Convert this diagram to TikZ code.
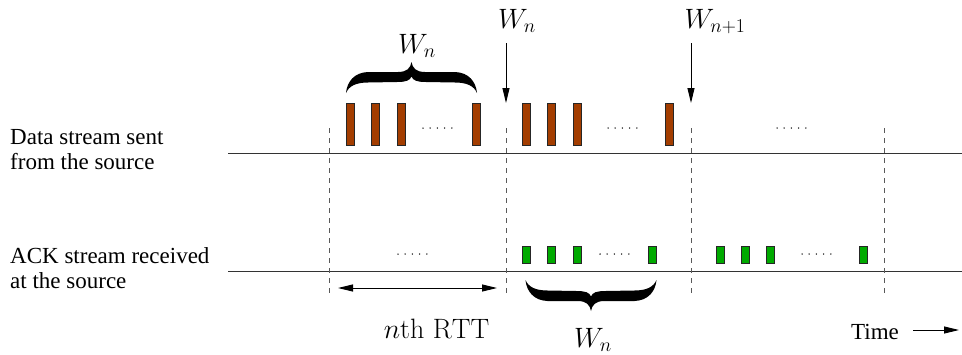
\RequirePackage{fix-cm}
\documentclass[tikz,border=0pt]{standalone}
\usepackage{fontspec}
\newfontfamily\tms{Liberation Serif}
\usetikzlibrary{arrows.meta}
\definecolor{brownc}{RGB}{163,61,0}
\definecolor{greenc}{RGB}{0,170,0}
\begin{document}
\begin{tikzpicture}[x=1pt,y=-1pt,
  axis/.style={line width=1pt, draw=black!80},
  sep/.style={draw=black!65, line width=0.9pt, dash pattern=on 5pt off 5pt},
  databar/.style={draw=black!85, line width=0.6pt, fill=brownc, minimum width=8.4pt, minimum height=42.4pt, inner sep=0pt, anchor=north west},
  ackbar/.style={draw=black!85, line width=0.6pt, fill=greenc, minimum width=8.4pt, minimum height=16.8pt, inner sep=0pt, anchor=north west},
  arr/.style={-{Triangle[length=15pt,width=7pt]}, line width=0.9pt},
  arrboth/.style={{Triangle[length=15pt,width=7pt]}-{Triangle[length=15pt,width=7pt]}, line width=0.9pt},
  lbl/.style={font=\tms\fontsize{23}{25}\selectfont, inner sep=0pt},
  mlbl/.style={font=\fontsize{28}{30}\selectfont, inner sep=0pt, anchor=base},
  bigbrace/.pic={
    \fill (0,0) .. controls (1,11) and (8,20.5) .. (22,21)
      -- (52,21) .. controls (61,21) and (64.5,25) .. (65.5,31)
      .. controls (66.5,25) and (70,21) .. (79,21)
      -- (109,21) .. controls (123,20.5) and (130,11) .. (131,0)
      .. controls (128,7) and (121,10.5) .. (109,10.5)
      -- (80,11) .. controls (71,11) and (67,12.5) .. (65.5,16.5)
      .. controls (64,12.5) and (60,11) .. (51,11)
      -- (22,10.5) .. controls (10,10.5) and (3,7) .. (0,0) -- cycle;
  }
]
\useasboundingbox (0,0) rectangle (962,354);

% left labels
\node[lbl, anchor=north west, align=left] (datalbl) at (10,129.5) {Data stream sent\\from the source};
\node[lbl, anchor=north west, align=left] (acklbl) at (10,247.5) {ACK stream received\\at the source};

% time axes
\draw[axis] (228,153) -- (962,153);
\draw[axis] (228,271) -- (962,271);

% RTT separators
\foreach \x in {329,506,691,884} \draw[sep] (\x,128) -- (\x,297);

% data packets
\foreach \x/\n in {346/1,371/2,397/3,472/4,522/5,547/6,573/7,665/8}
  \node[databar] (d\n) at (\x,103) {};
% ack packets
\foreach \x/\n in {522/1,547/2,573/3,648/4,716/5,741/6,766/7,859/8}
  \node[ackbar] (a\n) at (\x,246) {};

% dots
\foreach \x/\y in {423/128,608/128,777/128,398/254,600/254,802/254}
  \foreach \i in {0,...,4} \fill (\x+7.2*\i,\y) circle (0.75pt);

% braces
\pic[yscale=-1] at (346,93) {bigbrace};
\pic at (525.5,280) {bigbrace};
\node[mlbl] (wtop) at (417,53) {$W_n$};
\node[mlbl] (wbot) at (593,347) {$W_n$};

% window arrows
\node[mlbl] (wa) at (517,28) {$W_n$};
\coordinate (was) at (506,43);
\coordinate (wae) at (506,103);
\draw[arr] (was) -- (wae);
\node[mlbl] (wb) at (715,28) {$W_{n+1}$};
\coordinate (wbs) at (691,43);
\coordinate (wbe) at (691,103);
\draw[arr] (wbs) -- (wbe);

% RTT
\coordinate (rl) at (338,288);
\coordinate (rr) at (497,288);
\draw[arrboth] (rl) -- (rr);
\node[mlbl] (rtt) at (436.5,338) {$n\mathrm{th\ RTT}$};

% time
\node[lbl, anchor=base west] (time) at (851,339) {Time};
\coordinate (ts) at (913,330);
\coordinate (te) at (959,330);
\draw[arr] (ts) -- (te);
\end{tikzpicture}
\end{document}
